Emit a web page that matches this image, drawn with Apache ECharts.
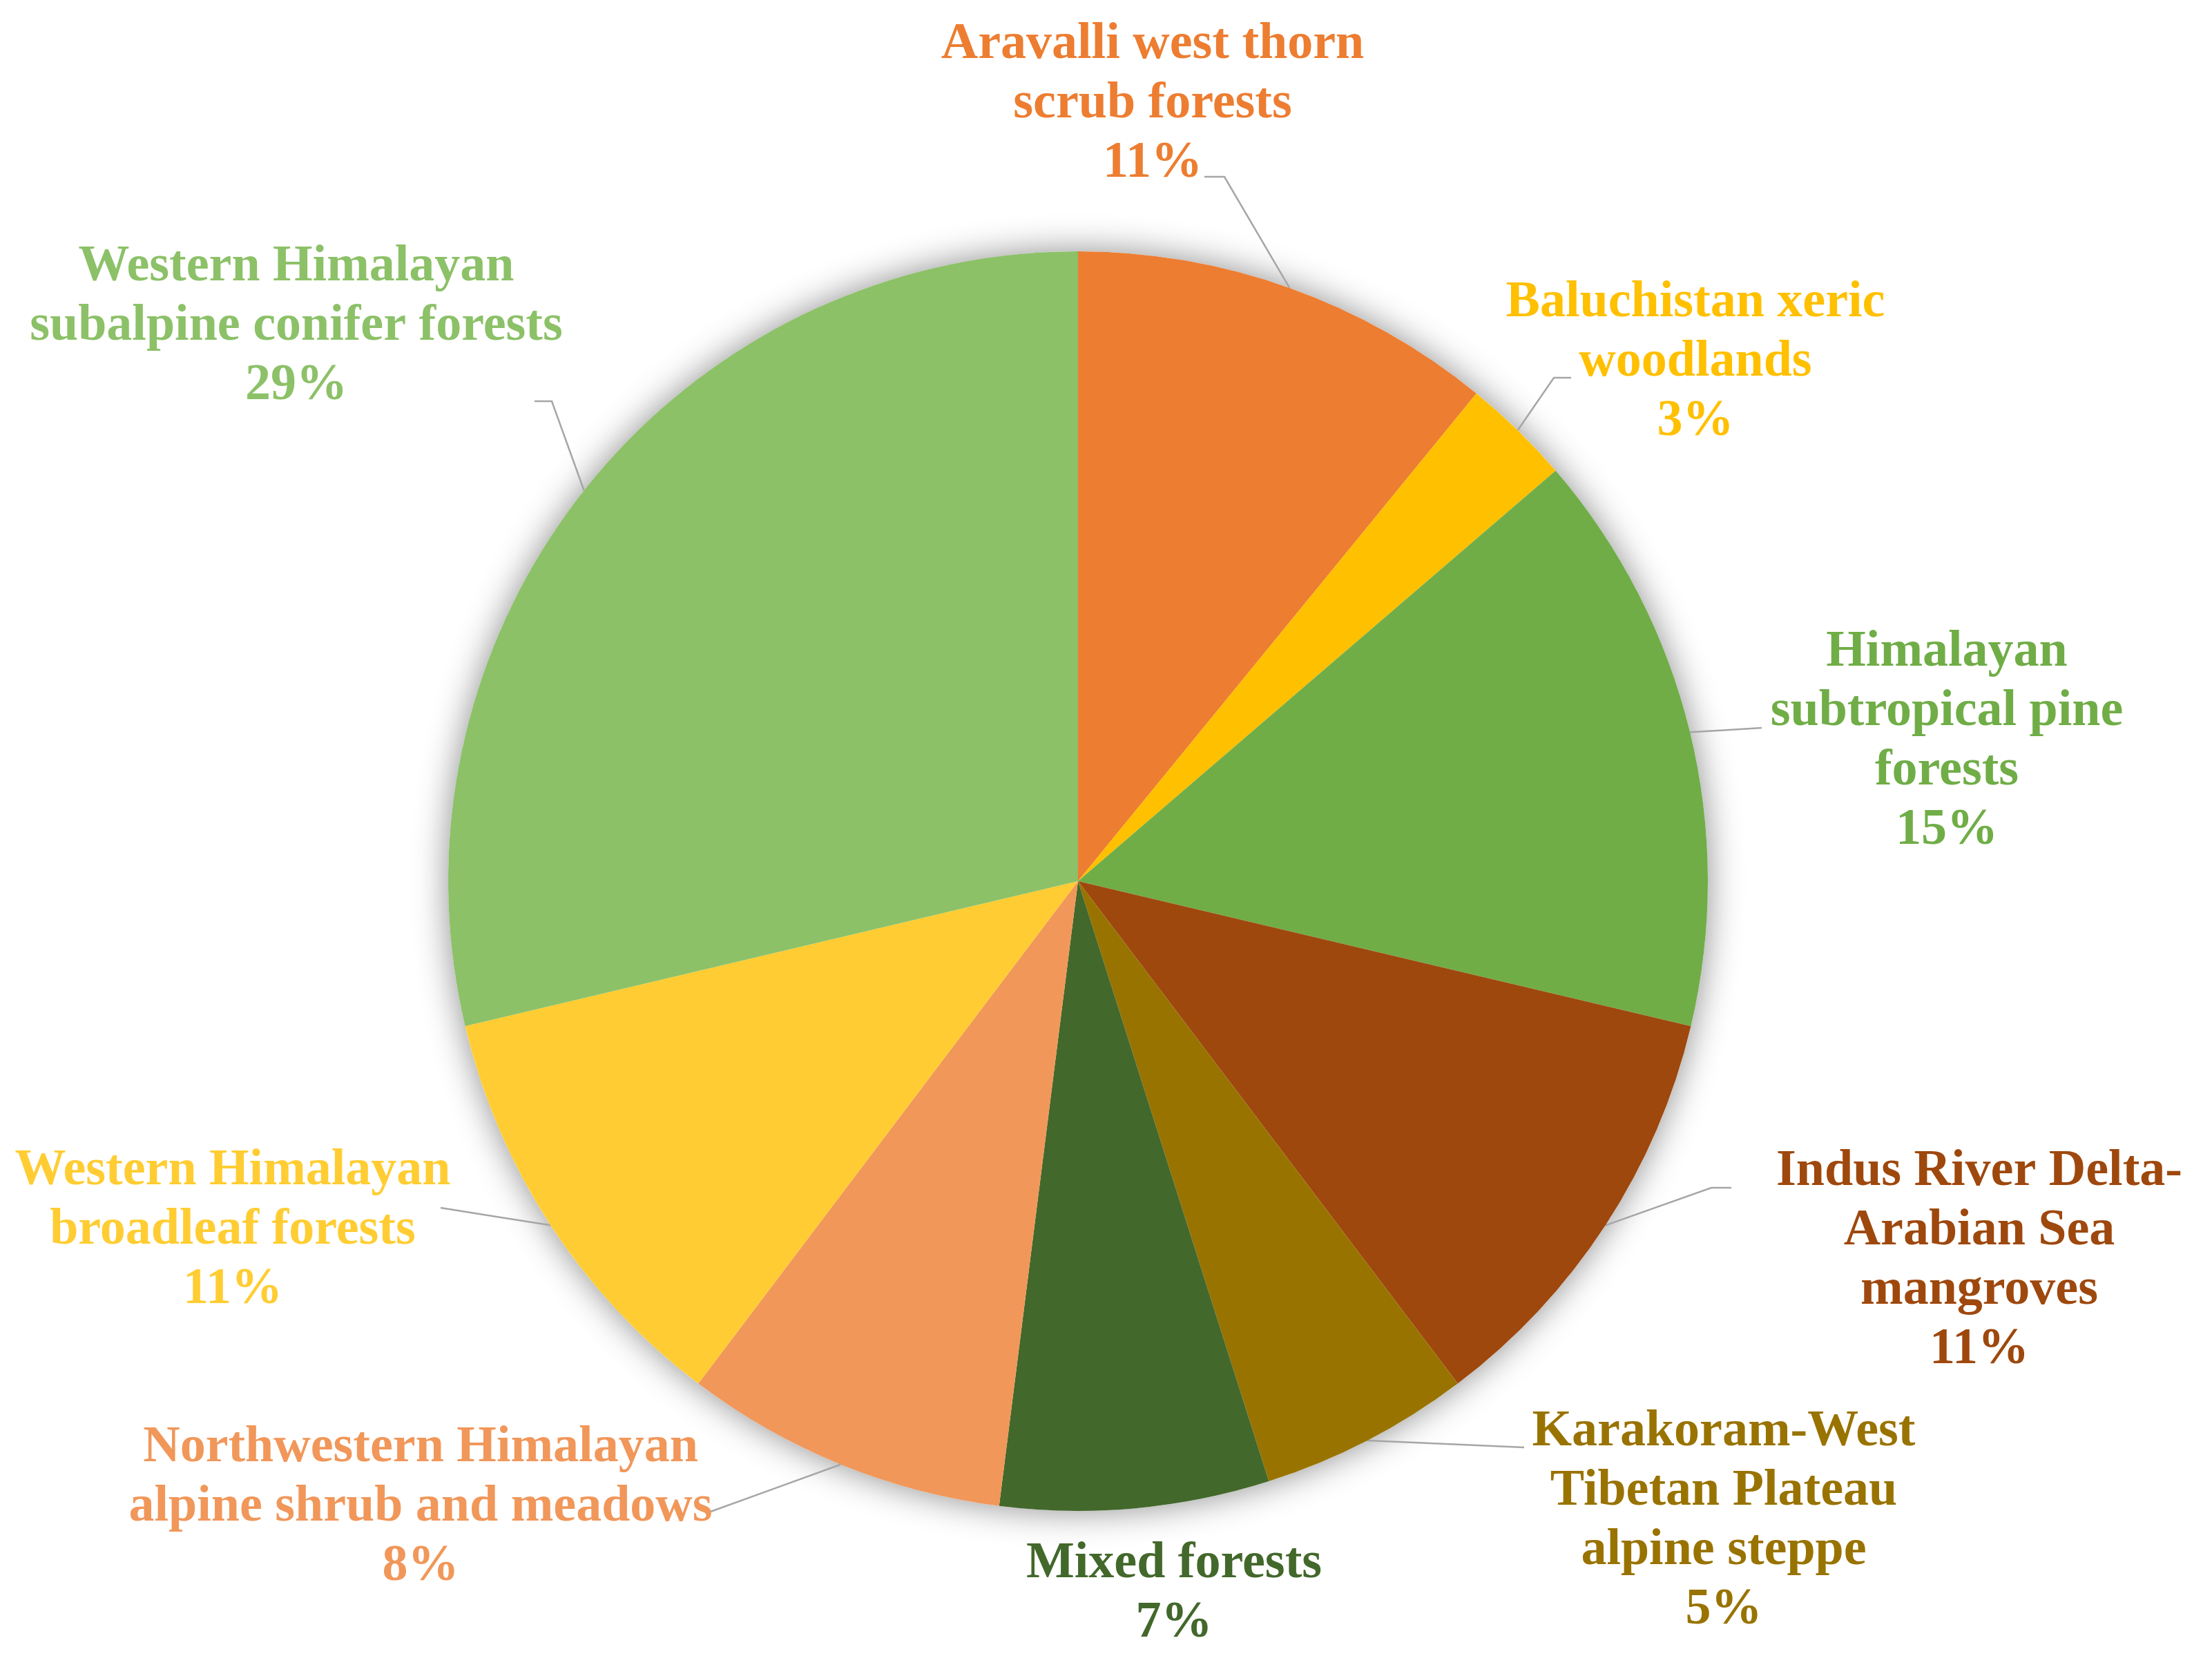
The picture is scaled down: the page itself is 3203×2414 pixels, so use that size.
<!DOCTYPE html>
<html>
<head>
<meta charset="utf-8">
<script src="https://cdn.jsdelivr.net/npm/echarts@6/dist/echarts.min.js"></script>
<style>
  html, body { margin: 0; padding: 0; background: #ffffff; }
  #chart { width: 3203px; height: 2414px; }
</style>
</head>
<body>
<div id="chart"></div>
<script>
// ---- data ----
const categories = [
  'Aravalli west thorn scrub forests',
  'Baluchistan xeric woodlands',
  'Himalayan subtropical pine forests',
  'Indus River Delta-Arabian Sea mangroves',
  'Karakoram-West Tibetan Plateau alpine steppe',
  'Mixed forests',
  'Northwestern Himalayan alpine shrub and meadows',
  'Western Himalayan broadleaf forests',
  'Western Himalayan subalpine conifer forests'
];
const values = [10.9, 2.8, 15.0, 11.0, 5.4, 6.9, 8.3, 11.0, 28.7];

// ---- label text wrapping (as in the reference) ----
const labelWrapped = [
  'Aravalli west thorn\nscrub forests',
  'Baluchistan xeric\nwoodlands',
  'Himalayan\nsubtropical pine\nforests',
  'Indus River Delta-\nArabian Sea\nmangroves',
  'Karakoram-West\nTibetan Plateau\nalpine steppe',
  'Mixed forests',
  'Northwestern Himalayan\nalpine shrub and meadows',
  'Western Himalayan\nbroadleaf forests',
  'Western Himalayan\nsubalpine conifer forests'
];

// ---- styles ----
const colors = ['#ED7D31', '#FFC000', '#70AD47', '#9E480E', '#997300',
                '#43682B', '#F1975A', '#FFCD33', '#8CC168'];

const PIE_CX = 1561, PIE_CY = 1276, PIE_R = 912;

// label block centre + leader-line bend/end points (layout only)
const labelPlacement = [
  { c: [1669, 151],  pts: [[1773, 256], [1744, 256]] },
  { c: [2455, 525],  pts: [[2250, 547], [2275, 547]] },
  { c: [2819, 1074], pts: [[2551, 1054]] },
  { c: [2866, 1826], pts: [[2478, 1720], [2507, 1720]] },
  { c: [2496, 2203], pts: [[2207, 2096]] },
  { c: [1700, 2308], pts: [] },
  { c: [609, 2183],  pts: [[1029, 2189]] },
  { c: [337, 1782],  pts: [[638, 1749]] },
  { c: [429, 473],   pts: [[799, 581], [774, 581]] }
];

const chart = echarts.init(document.getElementById('chart'), null, { renderer: 'canvas' });

const data = categories.map((name, i) => ({
  name: name,
  value: values[i],
  itemStyle: { color: colors[i] },
  label: { color: colors[i] },
  labelLine: { show: labelPlacement[i].pts.length > 0 }
}));

const option = {
  backgroundColor: '#ffffff',
  animation: false,
  series: [
    {
      // soft shadow behind the pie (decorative backdrop)
      type: 'pie',
      silent: true,
      z: 1,
      center: [PIE_CX, PIE_CY],
      radius: PIE_R,
      startAngle: 90,
      label: { show: false },
      labelLine: { show: false },
      itemStyle: {
        color: '#ffffff',
        shadowBlur: 50,
        shadowColor: 'rgba(0,0,0,0.45)'
      },
      data: [{ value: 1, name: '' }]
    },
    {
      type: 'pie',
      z: 2,
      center: [PIE_CX, PIE_CY],
      radius: PIE_R,
      startAngle: 90,
      clockwise: true,
      avoidLabelOverlap: false,
      itemStyle: { borderWidth: 0 },
      label: {
        show: true,
        position: 'outside',
        width: 1200,
        overflow: 'none',
        fontFamily: '"Liberation Serif", "Times New Roman", serif',
        fontWeight: 'bold',
        fontSize: 74,
        lineHeight: 86,
        align: 'center',
        formatter: function (p) {
          return labelWrapped[p.dataIndex] + '\n' + Math.round(p.percent) + '%';
        }
      },
      labelLine: {
        show: true,
        length: 20,
        length2: 20,
        smooth: false,
        lineStyle: { color: '#A6A6A6', width: 2.5 }
      },
      labelLayout: function (params) {
        const p = labelPlacement[params.dataIndex];
        const res = {
          x: p.c[0],
          y: p.c[1],
          align: 'center',
          verticalAlign: 'middle'
        };
        if (p.pts.length && params.labelLinePoints) {
          const start = params.labelLinePoints[0];
          let pts;
          if (p.pts.length === 2) {
            pts = [start, p.pts[0], p.pts[1]];
          } else {
            const e = p.pts[0];
            pts = [start, [(start[0] + e[0]) / 2, (start[1] + e[1]) / 2], e];
          }
          res.labelLinePoints = pts;
        }
        return res;
      },
      data: data
    }
  ]
};

chart.setOption(option);
</script>
</body>
</html>
